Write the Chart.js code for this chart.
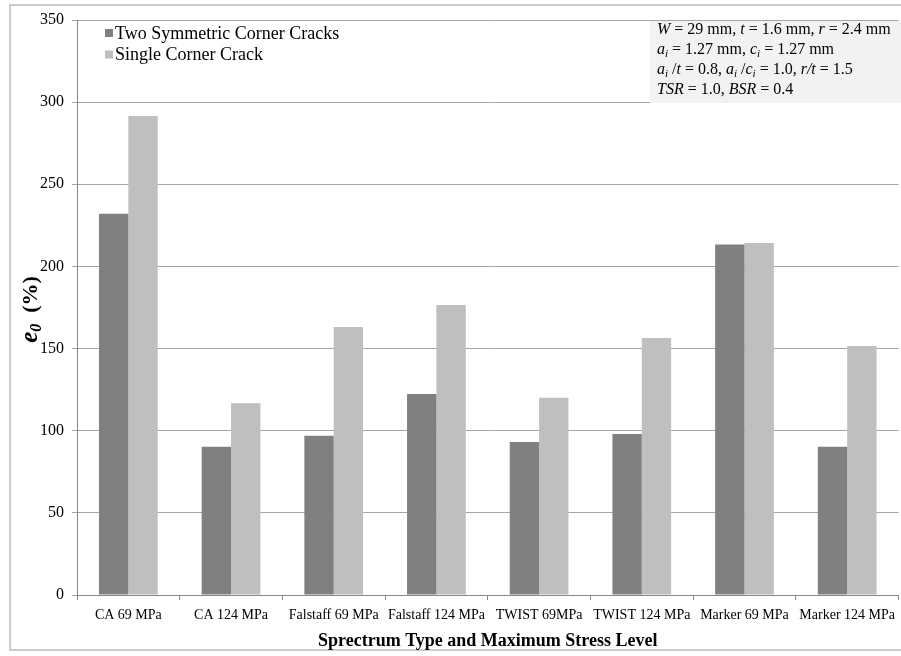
<!DOCTYPE html>
<html>
<head>
<meta charset="utf-8">
<script src="https://cdn.jsdelivr.net/npm/chart.js@4/dist/chart.umd.min.js"></script>
<style>
  html, body { margin: 0; padding: 0; overflow: hidden; background: #fff; }
  canvas { display: block; }
</style>
</head>
<body>
<canvas id="chart" width="902" height="656"></canvas>
<script>
// Spectrum / stress-level categories
const categories = [
  'CA 69 MPa', 'CA 124 MPa', 'Falstaff 69 MPa', 'Falstaff 124 MPa',
  'TWIST 69MPa', 'TWIST 124 MPa', 'Marker 69 MPa', 'Marker 124 MPa'
];

// e0 (%) for each crack configuration
const twoCornerCracks = [232, 90.3, 97, 122.3, 93.1, 98, 213.4, 90.3];
const singleCornerCrack = [291.5, 116.7, 163.1, 176.5, 120, 156.4, 214.2, 151.6];

const seriesNames = ['Two Symmetric Corner Cracks', 'Single Corner Crack'];
const seriesColors = ['#808080', '#bfbfbf'];

const yMin = 0;
const yMax = 350;
const yStep = 50;

const xTitle = 'Sprectrum Type and Maximum Stress Level';

// Geometry / loading parameters: runs of text (i = italic, sub = subscript)
const infoLines = [
  [{t: 'W', i: true}, {t: ' = 29 mm, '}, {t: 't', i: true}, {t: ' = 1.6 mm, '}, {t: 'r', i: true}, {t: ' = 2.4 mm'}],
  [{t: 'a', i: true}, {t: 'i', i: true, sub: true}, {t: ' = 1.27 mm, '}, {t: 'c', i: true}, {t: 'i', i: true, sub: true}, {t: ' = 1.27 mm'}],
  [{t: 'a', i: true}, {t: 'i', i: true, sub: true}, {t: ' /'}, {t: 't', i: true}, {t: ' = 0.8, '},
   {t: 'a', i: true}, {t: 'i', i: true, sub: true}, {t: ' /'}, {t: 'c', i: true}, {t: 'i', i: true, sub: true}, {t: ' = 1.0, '},
   {t: 'r/t', i: true}, {t: ' = 1.5'}],
  [{t: 'TSR', i: true}, {t: ' = 1.0, '}, {t: 'BSR', i: true}, {t: ' = 0.4'}]
];

const SERIF = '"Liberation Serif", "Times New Roman", serif';

function drawRuns(ctx, runs, x, y, size) {
  let cx = x;
  for (const r of runs) {
    const s = r.sub ? Math.round(size * 0.68) : size;
    ctx.font = (r.i ? 'italic ' : '') + s + 'px ' + SERIF;
    ctx.fillText(r.t, cx, r.sub ? y + 3 : y);
    cx += ctx.measureText(r.t).width;
  }
}

const decorations = {
  id: 'decorations',
  beforeDraw(chart) {
    const ctx = chart.ctx;
    ctx.save();
    ctx.strokeStyle = '#cccccc';
    ctx.lineWidth = 2;
    ctx.strokeRect(10, 5, 900, 645);
    ctx.restore();
  },
  afterDraw(chart) {
    const ctx = chart.ctx;
    const area = chart.chartArea;
    ctx.save();

    // legend, top-left inside the plot
    ctx.textBaseline = 'middle';
    ctx.textAlign = 'left';
    chart.data.datasets.forEach((ds, i) => {
      const cy = area.top + 13 + i * 21.5;
      ctx.fillStyle = ds.backgroundColor;
      ctx.fillRect(area.left + 28, cy - 4, 8, 8);
      ctx.fillStyle = '#000';
      ctx.font = '18px ' + SERIF;
      ctx.fillText(ds.label, area.left + 38, cy + 1);
    });

    // parameter box, top-right
    ctx.fillStyle = '#f2f2f2';
    ctx.fillRect(650, area.top + 1, 260, 82);
    ctx.fillStyle = '#000';
    ctx.textBaseline = 'alphabetic';
    infoLines.forEach((line, i) => {
      drawRuns(ctx, line, 657, area.top + 14 + i * 20, 16);
    });

    // rotated y-axis title: e0 (%)
    const yRuns = [
      {t: 'e', font: 'italic bold 25px ' + SERIF, dy: 0},
      {t: '0', font: 'italic bold 16px ' + SERIF, dy: 4},
      {t: '  (%)', font: 'bold 22px ' + SERIF, dy: 0}
    ];
    let total = 0;
    yRuns.forEach(r => { ctx.font = r.font; r.w = ctx.measureText(r.t).width; total += r.w; });
    ctx.translate(29, (area.top + area.bottom) / 2 + 2);
    ctx.rotate(-Math.PI / 2);
    let px = -total / 2;
    yRuns.forEach(r => {
      ctx.font = r.font;
      ctx.fillText(r.t, px, 8 + r.dy);
      px += r.w;
    });
    ctx.restore();
  }
};

new Chart(document.getElementById('chart'), {
  type: 'bar',
  data: {
    labels: categories,
    datasets: [
      {label: seriesNames[0], data: twoCornerCracks, backgroundColor: seriesColors[0],
       barPercentage: 1, categoryPercentage: 0.572},
      {label: seriesNames[1], data: singleCornerCrack, backgroundColor: seriesColors[1],
       barPercentage: 1, categoryPercentage: 0.572}
    ]
  },
  options: {
    responsive: false,
    animation: false,
    devicePixelRatio: 1,
    layout: {padding: {top: 20, left: 0, right: 0, bottom: 0}},
    plugins: {legend: {display: false}, tooltip: {enabled: false}},
    scales: {
      x: {
        grid: {display: true, drawOnChartArea: false, drawTicks: true, tickLength: 5, color: '#878787', offset: true},
        border: {color: '#878787'},
        ticks: {font: {family: SERIF, size: 14}, color: '#000', padding: 7, maxRotation: 0, autoSkip: false},
        title: {display: true, text: xTitle, color: '#000',
                font: {family: SERIF, size: 18, weight: 'bold'}, padding: {top: 0, bottom: 4}},
        afterFit(scale) { scale.height = 61; }
      },
      y: {
        min: yMin,
        max: yMax,
        ticks: {stepSize: yStep, font: {family: SERIF, size: 16}, color: '#000', padding: 8},
        grid: {color: '#a6a6a6', tickLength: 5},
        border: {color: '#878787'},
        afterFit(scale) { scale.width = 77; }
      }
    }
  },
  plugins: [decorations]
});
</script>
</body>
</html>
